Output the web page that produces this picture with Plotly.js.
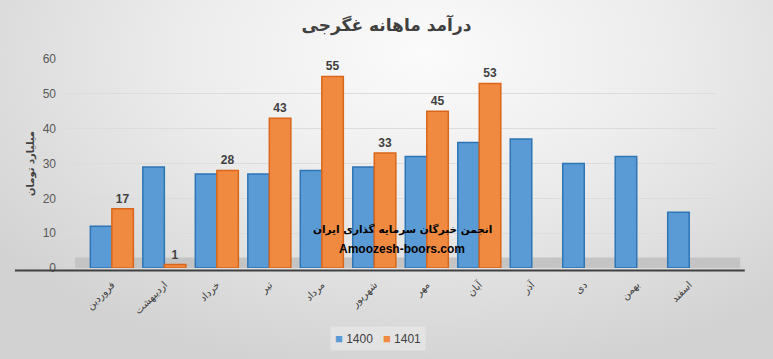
<!DOCTYPE html>
<html><head><meta charset="utf-8">
<script src="https://cdn.plot.ly/plotly-3.0.1.min.js"></script>
<style>
html,body{margin:0;padding:0;}
#chart{width:773px;height:359px;background:radial-gradient(ellipse 70% 90% at 55% 15%, #fbfbfb 0%, #ececec 45%, #d2d2d2 100%);}
</style></head>
<body><div id="chart"></div>
<script>
const months = ['فروردین','اردیبهشت','خرداد','تیر','مرداد','شهریور','مهر','آبان','آذر','دی','بهمن','اسفند'];
const v1400 = [12,29,27,27,28,29,32,36,37,30,32,16];
const v1401 = [17,1,28,43,55,33,45,53,null,null,null,null];
const yTicks = [0,10,20,30,40,50,60];
const seriesNames = ['1400','1401'];
const seriesColors = ['#5B9BD5','#F08A40'];

const traces = [
 {type:'bar', name:seriesNames[0], x:months, y:v1400,
  marker:{color:seriesColors[0], line:{color:'#2E75B6', width:1.5}}, hoverinfo:'x+y'},
 {type:'bar', name:seriesNames[1], x:months, y:v1401,
  marker:{color:seriesColors[1], line:{color:'#D9661A', width:1.5}},
  text:v1401.map(v=>v==null?'':'<b>'+v+'</b>'), textposition:'outside', cliponaxis:false,
  textfont:{family:'Liberation Sans, Arial', size:12, color:'#404040'}, hoverinfo:'x+y'}
];

const legendText = seriesNames.map((n,i)=>'<span style="color:'+seriesColors[i]+';font-size:13px">■</span> '+n).join('   ');

const layout = {
 width:773, height:359,
 paper_bgcolor:'rgba(0,0,0,0)', plot_bgcolor:'rgba(0,0,0,0)',
 margin:{l:62, r:57, t:59, b:91, autoexpand:false},
 title:{text:'<b>درآمد ماهانه غگرجی</b>', x:0.5, xanchor:'center', y:0.93, yanchor:'middle',
   font:{family:'DejaVu Sans', size:17, color:'#404040'}},
 barmode:'group', bargap:0.18, bargroupgap:0,
 showlegend:false,
 xaxis:{type:'category', range:[-0.95,11.51], tickangle:-45, showline:false, ticklabelstandoff:8,
   tickfont:{family:'DejaVu Sans', size:10, color:'#404040'}, ticks:'', showgrid:false},
 yaxis:{range:[0,60], tickvals:yTicks, showgrid:true, gridcolor:'#dcdcdc', gridwidth:1,
   zeroline:false, ticks:'', ticklabelstandoff:5, tickfont:{family:'Liberation Sans, Arial', size:12, color:'#595959'},
   title:{text:'<b>میلیارد تومان</b>', standoff:6, font:{family:'DejaVu Sans', size:10, color:'#404040'}}},
 shapes:[
  {type:'rect', layer:'below', xref:'paper', yref:'y', x0:0.02, x1:1.037, y0:0, y1:3, fillcolor:'#c4c4c4', line:{width:0}},
  {type:'line', layer:'above', xref:'paper', yref:'paper', x0:-0.072, x1:1.044, y0:-0.012, y1:-0.012, line:{color:'#404040', width:2}}
 ],
 annotations:[
  {xref:'paper', yref:'paper', x:0.52, y:0.145, text:'<b>انجمن خبرگان سرمایه گذاری ایران</b>', showarrow:false,
   font:{family:'DejaVu Sans', size:10.5, color:'#000'}},
  {xref:'paper', yref:'paper', x:0.52, y:0.05, text:'<b>Amoozesh-boors.com</b>', showarrow:false,
   font:{family:'Liberation Sans, Arial', size:12, color:'#000'}},
  {xref:'paper', yref:'paper', x:0.483, y:-0.335, xanchor:'center', yanchor:'middle', text:legendText, showarrow:false,
   bgcolor:'rgba(235,235,235,0.6)', borderpad:4,
   font:{family:'Liberation Sans, Arial', size:12, color:'#404040'}}
 ]
};
Plotly.newPlot('chart', traces, layout, {displayModeBar:false, staticPlot:true});
</script></body></html>
